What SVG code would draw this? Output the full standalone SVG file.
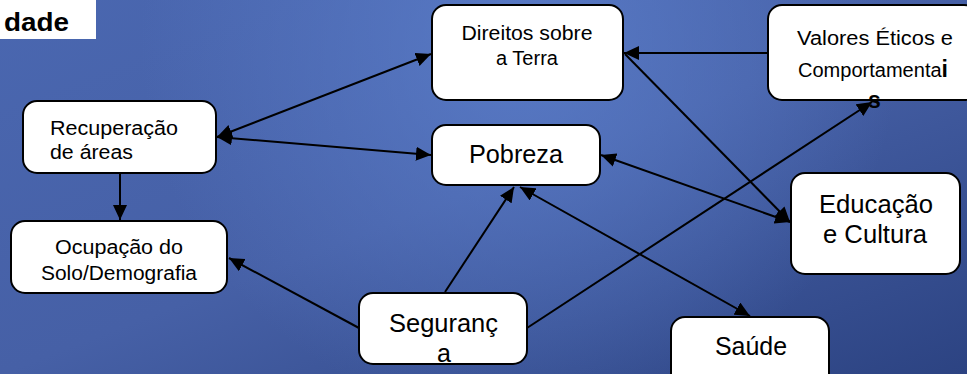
<svg xmlns="http://www.w3.org/2000/svg" width="967" height="374" viewBox="0 0 967 374">
  <defs>
    <linearGradient id="bg" x1="0" y1="0" x2="1" y2="1">
      <stop offset="0" stop-color="#4a67b0"/>
      <stop offset="0.5" stop-color="#4660a6"/>
      <stop offset="1" stop-color="#2c4382"/>
    </linearGradient>
    <radialGradient id="glow" gradientUnits="userSpaceOnUse" cx="520" cy="40" r="380">
      <stop offset="0" stop-color="#5a7cc8" stop-opacity="0.9"/>
      <stop offset="1" stop-color="#5a7cc8" stop-opacity="0"/>
    </radialGradient>
    <marker id="arr" markerUnits="userSpaceOnUse" markerWidth="16" markerHeight="14" refX="15" refY="7" orient="auto-start-reverse" viewBox="0 0 16 14">
      <path d="M0,0 L15,7 L0,14 z" fill="#000"/>
    </marker>
    <style>
      .box { fill: #fff; stroke: #000; stroke-width: 2; }
      .t { font-family: "Liberation Sans", Arial, sans-serif; fill: #000; }
      .s { font-size: 20px; }
      .b { font-size: 25px; }
      .c { text-anchor: middle; }
      .ln { stroke: #000; stroke-width: 2; fill: none; }
      .end { marker-end: url(#arr); }
      .both { marker-start: url(#arr); marker-end: url(#arr); }
    </style>
  </defs>

  <rect x="0" y="0" width="967" height="374" fill="url(#bg)"/>
  <rect x="0" y="0" width="967" height="374" fill="url(#glow)"/>

  <g id="title">
    <rect x="0" y="0" width="96" height="39" fill="#fff"/>
    <text class="t" x="4" y="31" font-size="25" font-weight="bold" textLength="65" lengthAdjust="spacingAndGlyphs">dade</text>
  </g>

  <g id="direitos">
    <rect class="box" x="432" y="5" width="191" height="95" rx="14"/>
    <text class="t s c" x="527" y="40" textLength="131" lengthAdjust="spacingAndGlyphs">Direitos sobre</text>
    <text class="t s c" x="527" y="65">a Terra</text>
  </g>

  <g id="valores">
    <rect class="box" x="768" y="5" width="210" height="95" rx="14"/>
    <text class="t s" x="797" y="45" textLength="156" lengthAdjust="spacingAndGlyphs">Valores Éticos e</text>
    <text class="t s" x="798" y="77" textLength="150" lengthAdjust="spacingAndGlyphs">Comportamenta<tspan font-size="23" font-weight="bold">i</tspan></text>
    <text class="t" x="868" y="108" font-size="23" font-weight="bold">s</text>
  </g>

  <g id="recuperacao">
    <rect class="box" x="23" y="101" width="193" height="72" rx="14"/>
    <text class="t s" x="50" y="135" textLength="128" lengthAdjust="spacingAndGlyphs">Recuperação</text>
    <text class="t s" x="50" y="159" textLength="83" lengthAdjust="spacingAndGlyphs">de áreas</text>
  </g>

  <g id="pobreza">
    <rect class="box" x="432" y="125" width="168" height="60" rx="14"/>
    <text class="t b" x="469" y="163" textLength="94" lengthAdjust="spacingAndGlyphs">Pobreza</text>
  </g>

  <g id="educacao">
    <rect class="box" x="791" y="173" width="169" height="101" rx="14"/>
    <text class="t b" x="819" y="213" textLength="114" lengthAdjust="spacingAndGlyphs">Educação</text>
    <text class="t b" x="823" y="243" textLength="104" lengthAdjust="spacingAndGlyphs">e Cultura</text>
  </g>

  <g id="ocupacao">
    <rect class="box" x="11" y="221" width="216" height="72" rx="14"/>
    <text class="t s" x="55" y="254" textLength="128" lengthAdjust="spacingAndGlyphs">Ocupação do</text>
    <text class="t s" x="41" y="280" textLength="156" lengthAdjust="spacingAndGlyphs">Solo/Demografia</text>
  </g>

  <g id="seguranca">
    <rect class="box" x="359" y="293" width="168" height="71" rx="14"/>
    <text class="t b" x="389" y="332" textLength="109" lengthAdjust="spacingAndGlyphs">Seguranç</text>
    <text class="t b" x="437" y="362">a</text>
  </g>

  <g id="saude">
    <rect class="box" x="671" y="317" width="158" height="70" rx="14"/>
    <text class="t b" x="715" y="355" textLength="72" lengthAdjust="spacingAndGlyphs">Saúde</text>
  </g>

  <g id="connectors">
    <line class="ln both" x1="217" y1="137" x2="431" y2="54"/>
    <line class="ln both" x1="217" y1="137" x2="431" y2="155"/>
    <line class="ln end" x1="120" y1="173" x2="120" y2="220"/>
    <line class="ln end" x1="768" y1="53" x2="624" y2="53"/>
    <line class="ln end" x1="625" y1="54" x2="790" y2="222"/>
    <line class="ln both" x1="601" y1="155" x2="790" y2="222"/>
    <line class="ln end" x1="527" y1="328" x2="872" y2="102"/>
    <line class="ln both" x1="520" y1="187" x2="750" y2="316"/>
    <line class="ln end" x1="445" y1="292" x2="514" y2="187"/>
    <line class="ln end" x1="359" y1="328" x2="229" y2="258"/>
  </g>
</svg>
